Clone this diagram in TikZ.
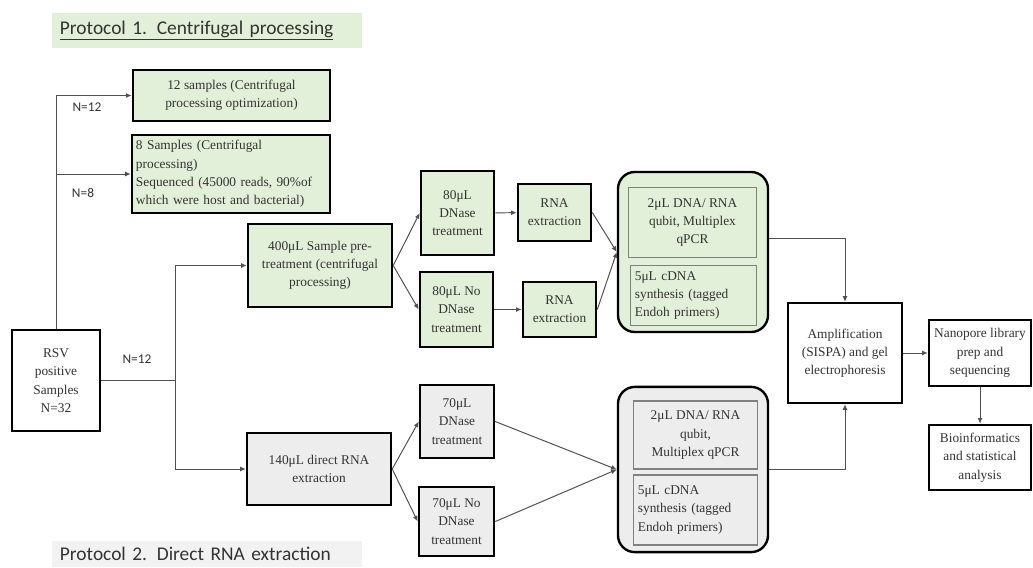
\documentclass[tikz,border=0pt]{standalone}
\usepackage{fontspec}
\setmainfont{Liberation Serif}
\newfontfamily\titlefont{Carlito}
\usepackage{xcolor}
\usetikzlibrary{arrows.meta}

\definecolor{boxgreen}{HTML}{E2EFD9}
\definecolor{boxgray}{HTML}{EDEDED}
\definecolor{titlegray}{HTML}{F2F2F2}
\definecolor{inkgray}{HTML}{333333}
\definecolor{linegray}{HTML}{505050}

\begin{document}
\begin{tikzpicture}[x=0.025cm, y=-0.025cm,
    font=\fontsize{9.5}{13}\selectfont,
    box/.style={rectangle, draw, line width=1.7pt, align=center, text=inkgray, inner sep=2pt},
    greenbox/.style={box, fill=boxgreen},
    graybox/.style={box, fill=boxgray},
    plainbox/.style={box, fill=white},
    group/.style={rectangle, draw, line width=1.7pt, rounded corners=12pt},
    inner/.style={rectangle, draw=gray, line width=0.8pt, align=center, text=inkgray, inner sep=2pt},
    arrow/.style={-{Latex[length=4pt,width=3.5pt]}, linegray, line width=0.7pt},
    line/.style={linegray, line width=0.7pt},
    count/.style={font=\titlefont\fontsize{9.5}{11}\selectfont, text=inkgray},
    title/.style={font=\titlefont\fontsize{13.8}{16}\selectfont, text=inkgray, text width=7.35cm, align=left, inner xsep=0.2cm, inner ysep=0pt}
]
\useasboundingbox (0,0) rectangle (1033,567);

% Titles
\node[title, fill=boxgreen, minimum height=0.875cm] (proto1) at (207,30.5) {\underline{Protocol 1. Centrifugal processing}};
\node[title, fill=titlegray, minimum height=0.65cm] (proto2) at (207,554) {Protocol 2. Direct RNA extraction};

% Samples
\node[box, fill=white, minimum width=2.2cm, minimum height=2.53cm] (rsv) at (56,380.5) {RSV\\positive\\Samples\\N=32};
\node[greenbox, minimum width=4.93cm, minimum height=1.28cm] (s12) at (231.5,95.5) {12 samples (Centrifugal\\processing optimization)};
\node[greenbox, text width=4.75cm, align=left, minimum height=1.95cm, inner xsep=0.1cm, inner ysep=0.5pt] (s8) at (231,174) {8 Samples (Centrifugal\\processing)\\Sequenced (45000 reads, 90\%of\\which were host and bacterial)};

% Protocol 1
\node[greenbox, minimum width=3.6cm, minimum height=2.08cm] (pre400) at (320,265.5) {400μL Sample pre-\\treatment (centrifugal\\processing)};
\node[greenbox, minimum width=1.83cm, minimum height=2.1cm] (dn80) at (457.5,213) {80μL\\DNase\\treatment};
\node[greenbox, minimum width=1.83cm, minimum height=1.88cm] (nodn80) at (456.5,309.5) {80μL No\\DNase\\treatment};
\node[greenbox, minimum width=1.83cm, minimum height=1.43cm] (ext1) at (554.5,212.5) {RNA\\extraction};
\node[greenbox, minimum width=1.83cm, minimum height=1.38cm] (ext2) at (559.5,309.5) {RNA\\extraction};
\node[group, fill=boxgreen, minimum width=3.75cm, minimum height=4cm] (contA) at (693,252) {};
\node[inner, minimum width=3.18cm, minimum height=1.73cm] (qA) at (692.5,222.5) {2μL DNA/ RNA\\qubit, Multiplex\\qPCR};
\node[inner, text width=2.93cm, align=left, inner xsep=0.1cm, minimum height=1.48cm] (cA) at (693.5,295.5) {5μL cDNA\\synthesis (tagged\\Endoh primers)};

% Protocol 2
\node[graybox, minimum width=3.6cm, minimum height=1.8cm] (rna140) at (319,469) {140μL direct RNA\\extraction};
\node[graybox, minimum width=1.85cm, minimum height=1.83cm] (dn70) at (457,421.5) {70μL\\DNase\\treatment};
\node[graybox, minimum width=1.88cm, minimum height=1.73cm] (nodn70) at (456.5,521.5) {70μL No\\DNase\\treatment};
\node[group, fill=boxgray, minimum width=3.75cm, minimum height=4.13cm] (contB) at (693,469.5) {};
\node[inner, minimum width=3.08cm, minimum height=1.7cm] (qB) at (695.5,435) {2μL DNA/ RNA\\qubit,\\Multiplex qPCR};
\node[inner, text width=2.88cm, align=left, inner xsep=0.1cm, minimum height=1.75cm] (cB) at (695.5,510) {5μL cDNA\\synthesis (tagged\\Endoh primers)};

% Sequencing
\node[plainbox, minimum width=2.85cm, minimum height=2.5cm] (amp) at (845,353) {Amplification\\(SISPA) and gel\\electrophoresis};
\node[plainbox, minimum width=2.55cm, minimum height=1.65cm] (nano) at (980,353) {Nanopore library\\prep and\\sequencing};
\node[plainbox, minimum width=2.55cm, minimum height=1.63cm] (bio) at (980,457.5) {Bioinformatics\\and statistical\\analysis};

% Counts
\node[count] (n12a) at (87,107) {N=12};
\node[count] (n8) at (83,193) {N=8};
\node[count] (n12b) at (137,359) {N=12};

% Arrows
\coordinate (split) at (175,380.5);
\draw[arrow] (rsv.north) |- (s12.west);
\draw[arrow] (rsv.north) |- (s8.west);
\draw[line] (rsv.east) -- (split);
\draw[arrow] (split) |- (pre400.west);
\draw[arrow] (split) |- (rna140.west);

\draw[arrow] (pre400.east) -- (dn80.west);
\draw[arrow] (pre400.east) -- (nodn80.west);
\draw[arrow] (dn80) -- (ext1);
\draw[arrow] (nodn80) -- (ext2);
\draw[arrow] (ext1.east) -- (contA.west);
\draw[arrow] (ext2.east) -- (contA.west);

\draw[arrow] (rna140.east) -- (dn70.west);
\draw[arrow] (rna140.east) -- (nodn70.west);
\draw[arrow] (dn70.east) -- (contB.west);
\draw[arrow] (nodn70.east) -- (contB.west);

\draw[arrow] (contA.10) -| (amp.north);
\draw[arrow] (contB.east) -| (amp.south);
\draw[arrow] (amp) -- (nano);
\draw[arrow] (nano) -- (bio);

\end{tikzpicture}
\end{document}
